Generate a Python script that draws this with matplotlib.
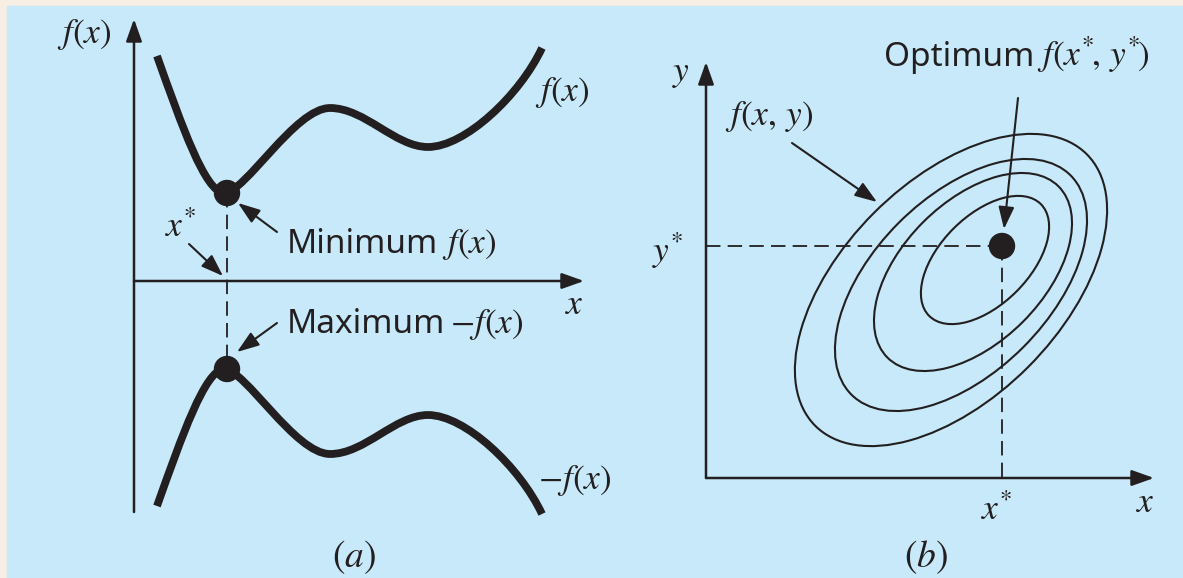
import matplotlib
matplotlib.use("Agg")
import matplotlib.pyplot as plt
from matplotlib.path import Path
from matplotlib.patches import PathPatch, Ellipse, Rectangle, Circle

plt.rcParams['font.family'] = ['Noto Sans', 'DejaVu Sans']
plt.rcParams['mathtext.fontset'] = 'stix'

INK = '#231f20'
BLUE = '#c7e9f9'
CREAM = '#f7efe3'
WORD = 24      # sans words
MATH = 25.5    # italic symbols

# ---- panel (a): f(x) drawn as cubic Bezier nodes, pixel units (y down)
axis_a = 281                      # row of the x axis, -f(x) is f(x) mirrored about it
f_x = [157, 182, 205, 224, 245, 295, 330, 365, 395, 428, 465, 520, 542]
f_y = [56, 126, 192, 193, 193, 108, 108, 108, 147, 147, 147, 95, 48]
xstar_a = 227
fmin_y = 193

# ---- panel (b): contour ellipses of f(x, y)
ell_cx = [951, 961, 973, 985]
ell_cy = [290, 285, 272, 260]
ell_w = [384, 310, 242, 158]
ell_h = [218, 176, 141, 89]
ell_angle = -45
opt_x, opt_y = 1002, 246

fig = plt.figure(figsize=(11.83, 5.78), dpi=100, facecolor=CREAM)
ax = fig.add_axes([0, 0, 1, 1])
ax.set_xlim(0, 1183)
ax.set_ylim(578, 0)
ax.axis('off')
ax.add_patch(Rectangle((7, 6), 1183, 578, color=BLUE, zorder=0))


def arrow(x0, y0, x1, y1, lw=1.5, hl=0.9, hw=0.32, ms=15):
    ax.annotate('', xy=(x1, y1), xytext=(x0, y0),
                arrowprops=dict(arrowstyle=f'-|>,head_length={hl},head_width={hw}',
                                color=INK, lw=lw, mutation_scale=ms,
                                shrinkA=0, shrinkB=0))


def dashed(xs, ys):
    ax.plot(xs, ys, color=INK, lw=1.3, ls=(0, (8, 4)), zorder=2)


def label(x, y, s, size=MATH, ha='center', va='center'):
    ax.text(x, y, s, fontsize=size, ha=ha, va=va, color=INK)


codes = [Path.MOVETO] + [Path.CURVE4] * (len(f_x) - 1)
curve_f = Path(list(zip(f_x, f_y)), codes)
curve_mf = Path([(x, 2 * axis_a - y) for x, y in zip(f_x, f_y)], codes)
for p in (curve_f, curve_mf):
    ax.add_patch(PathPatch(p, fill=False, ec=INK, lw=5.6, capstyle='butt', zorder=3))

# axes of panel (a)
arrow(134, 512, 134, 19, lw=1.8)
arrow(134, axis_a, 584, axis_a, lw=1.8)

dashed([xstar_a, xstar_a], [fmin_y, 2 * axis_a - fmin_y])
for yy in (fmin_y, 2 * axis_a - fmin_y):
    ax.add_patch(Circle((xstar_a, yy), 12.5, color=INK, zorder=4))

arrow(277, 232, 238, 203)
arrow(189, 244, 223, 276)
arrow(277, 323, 237, 352)

label(84, 34, '$f(x)$')
label(574, 305, '$x$')
label(535, 92, '$f(x)$', ha='left')
label(538, 480, '$-f(x)$', ha='left')
label(181, 228, '$x^{*}$')
label(287, 253, 'Minimum', size=WORD, ha='left', va='baseline')
label(442, 253, '$f(x)$', ha='left', va='baseline')
label(287, 333, 'Maximum', size=WORD, ha='left', va='baseline')
label(450, 333, '$-f(x)$', ha='left', va='baseline')
label(354, 557, '$(a)$', size=27)

# ---- panel (b)
for cx, cy, w, h in zip(ell_cx, ell_cy, ell_w, ell_h):
    ax.add_patch(Ellipse((cx, cy), w, h, angle=ell_angle, fill=False,
                         ec=INK, lw=1.5, zorder=2))

arrow(706, 478, 706, 62, lw=1.8)
arrow(706, 478, 1154, 478, lw=1.8)

dashed([706, opt_x], [opt_y, opt_y])
dashed([opt_x, opt_x], [opt_y, 478])
ax.add_patch(Circle((opt_x, opt_y), 12.5, color=INK, zorder=4))

arrow(792, 143, 877, 202)
arrow(1018, 98, 1004, 229)

label(681, 73, '$y$')
label(725, 117, '$f(x,\\, y)$', ha='left')
label(884, 66, 'Optimum', size=WORD, ha='left', va='baseline')
label(1037, 66, '$f(x^{*}\\!,\\, y^{*}\\!)$', ha='left', va='baseline')
label(668, 251, '$y^{*}$')
label(997, 511, '$x^{*}$')
label(1145, 503, '$x$')
label(926, 557, '$(b)$', size=27)

fig.savefig('out.png', dpi=100, facecolor=CREAM)
